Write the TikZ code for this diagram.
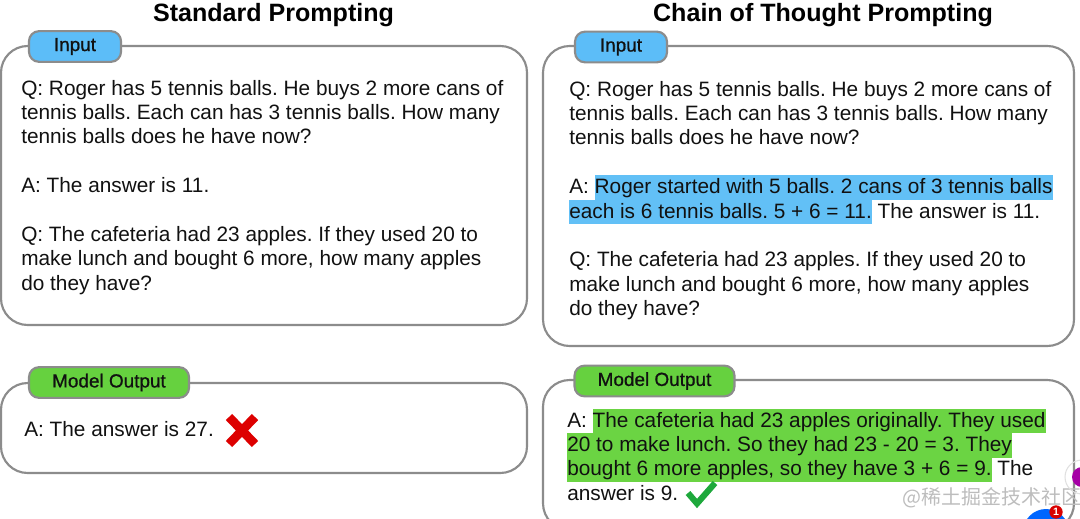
\documentclass[tikz,border=0pt]{standalone}
\usepackage{fontspec}
\setmainfont{Liberation Sans}
\newfontfamily\cjkfont{Noto Sans CJK SC}
\newfontfamily\tagfont[FakeBold=0.8]{Liberation Sans}
\frenchspacing
\definecolor{boxgray}{HTML}{8C8C8C}
\definecolor{inblue}{HTML}{5CBDF8}
\definecolor{outgreen}{HTML}{66D13F}
\definecolor{hlblue}{HTML}{62C0F6}
\definecolor{hlgreen}{HTML}{6BD443}
\definecolor{xred}{HTML}{DD0000}
\definecolor{ckgreen}{HTML}{1EA83C}
\definecolor{wmgray}{HTML}{BDBDBD}
\definecolor{txtblack}{HTML}{111111}
\newcommand\hlb[1]{{\setlength\fboxsep{0pt}\colorbox{hlblue}{\vrule width0pt height13.6pt depth4.7pt\relax#1}}}
\newcommand\hlg[1]{{\setlength\fboxsep{0pt}\colorbox{hlgreen}{\vrule width0pt height13.6pt depth4.7pt\relax#1}}}
\tikzset{
  frame/.style={draw=boxgray, line width=1.6pt, rounded corners=20pt},
  tag/.style={draw=boxgray, line width=1.6pt, rounded corners=7.5pt, minimum height=23pt, inner sep=0pt, font=\tagfont\fontsize{14.2}{16}\selectfont, text=txtblack},
  intag/.style={tag, fill=inblue, minimum width=69pt},
  outtag/.style={tag, fill=outgreen, minimum width=120pt},
  txt/.style={anchor=base west, inner sep=0pt, font=\fontsize{15.6}{18.3}\selectfont, text=txtblack},
  title/.style={anchor=base, inner sep=0pt, font=\fontsize{18.8}{22}\selectfont\bfseries, text=black},
}
\begin{document}
\begin{tikzpicture}[x=0.75pt,y=-0.75pt]
\useasboundingbox (0,0) rectangle (1080,518);
\fill[white] (0,0) rectangle (1080,518);
\clip (0,0) rectangle (1080,518);

% titles
\node[title] (t1) at (273.5,21.5) {Standard Prompting};
\node[title] (t2) at (823,21.5) {Chain of Thought Prompting};

% frames
\draw[frame] (1,46) rectangle (527,325);
\draw[frame] (543,46) rectangle (1074,346);
\draw[frame] (1,383) rectangle (527,473);
\draw[frame] (543,380) rectangle (1074,530);

% tags
\node[intag] (in1) at (75,46.5) {Input};
\node[intag] (in2) at (621,47) {Input};
\node[outtag] (out1) at (109,382.5) {Model Output};
\node[outtag] (out2) at (654.5,381) {Model Output};

% left input
\node[txt] (l1) at (21,95) {Q: Roger has 5 tennis balls. He buys 2 more cans of};
\node[txt] (l2) at (21,119.4) {tennis balls. Each can has 3 tennis balls. How many};
\node[txt] (l3) at (21,143.8) {tennis balls does he have now?};
\node[txt] (l4) at (21,192.6) {A: The answer is 11.};
\node[txt] (l5) at (21,241.4) {Q: The cafeteria had 23 apples. If they used 20 to};
\node[txt] (l6) at (21,265.8) {make lunch and bought 6 more, how many apples};
\node[txt] (l7) at (21,290.2) {do they have?};

% right input
\node[txt] (r1) at (569,96) {Q: Roger has 5 tennis balls. He buys 2 more cans of};
\node[txt] (r2) at (569,120.4) {tennis balls. Each can has 3 tennis balls. How many};
\node[txt] (r3) at (569,144.8) {tennis balls does he have now?};
\node[txt] (r4) at (569,193.6) {A: \hlb{Roger started with 5 balls. 2 cans of 3 tennis balls}};
\node[txt] (r5) at (569,218) {\hlb{each is 6 tennis balls. 5 + 6 = 11.} The answer is 11.};
\node[txt] (r6) at (569,266.8) {Q: The cafeteria had 23 apples. If they used 20 to};
\node[txt] (r7) at (569,291.2) {make lunch and bought 6 more, how many apples};
\node[txt] (r8) at (569,315.6) {do they have?};

% left output
\node[txt] (lo1) at (24,436) {A: The answer is 27.};
\draw[xred, line width=6.6pt] (229,417) -- (255,444) (255,417) -- (229,444);

% right output
\node[txt] (ro1) at (567,427) {A: \hlg{The cafeteria had 23 apples originally. They used}};
\node[txt] (ro2) at (567,451.4) {\hlg{20 to make lunch. So they had 23 - 20 = 3. They}};
\node[txt] (ro3) at (567,475.8) {\hlg{bought 6 more apples, so they have 3 + 6 = 9.} The};
\node[txt] (ro4) at (567,500.2) {answer is 9.};
\draw[ckgreen, line width=4.6pt] (688,493) -- (697,503.5) -- (715,483);

% watermark and overlay
\node[anchor=west, inner sep=0pt, font=\cjkfont\fontsize{15}{17}\selectfont, text=wmgray] (wm) at (902,498) {@稀土掘金技术社区};
\draw[black!12, line width=0.8pt] (1082,477) circle (17);
\fill[violet!70!magenta] (1082,477) circle (10);
\fill[blue!60!cyan] (1046,532) circle (23);
\node[circle, fill=red!85!black, text=white, inner sep=0pt, minimum size=10pt, font=\fontsize{8}{9}\selectfont\bfseries] (badge) at (1056,512) {1};
\end{tikzpicture}
\end{document}
